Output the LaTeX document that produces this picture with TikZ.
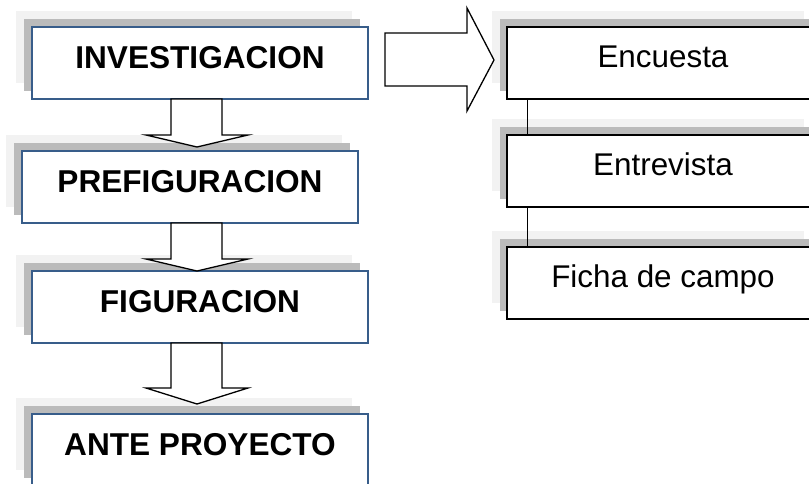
\documentclass[tikz,border=0pt]{standalone}
\usepackage{fontspec}
\setmainfont{Liberation Sans}
\usetikzlibrary{shadows,calc}
\definecolor{bordblue}{HTML}{385D8A}
\definecolor{shdark}{HTML}{BBBBBB}
\definecolor{shlight}{HTML}{F2F2F2}
\tikzset{
  shadowed/.style={
    general shadow={fill=shlight, shadow xshift=-16pt, shadow yshift=16pt},
    general shadow={fill=shdark, shadow xshift=-8pt, shadow yshift=8pt}},
  stagebox/.style={shadowed, draw=bordblue, line width=1.3pt, fill=white,
    rectangle, inner sep=0pt, minimum width=336pt, text height=41pt, text depth=31pt,
    font=\fontsize{31.6}{36}\selectfont\bfseries},
  toolbox/.style={draw=black, line width=1.3pt, fill=white,
    general shadow={fill=shlight, shadow xshift=-15pt, shadow yshift=16pt},
    general shadow={fill=shdark, shadow xshift=-7.5pt, shadow yshift=8pt},
    rectangle, inner sep=0pt, minimum width=312pt, text height=40pt, text depth=32pt,
    font=\fontsize{31.4}{36}\selectfont},
  blockarrow/.style={draw=black, line width=1.3pt, fill=white, line join=miter},
  link/.style={draw=black, line width=1pt}
}
\begin{document}
\begin{tikzpicture}[x=1pt,y=-1pt]
\clip (0,0) rectangle (809,483);
\fill[white] (0,0) rectangle (809,483);
% left column
\node[stagebox] (inv) at (200,63) {INVESTIGACION};
\node[stagebox] (pref) at (190,187) {PREFIGURACION};
\node[stagebox] (fig) at (200,307) {FIGURACION};
\node[stagebox] (ante) at (200,450) {ANTE PROYECTO};
% right column
\node[toolbox] (enc) at (663,63) {Encuesta};
\node[toolbox] (ent) at (663,171) {Entrevista};
\node[toolbox] (fic) at (663,283) {Ficha de campo};
% links right column
\draw[link] ([xshift=21pt]enc.south west) -- ([xshift=21pt]ent.north west);
\draw[link] ([xshift=21pt]ent.south west) -- ([xshift=21pt]fic.north west);
% down block arrows
\draw[blockarrow] (171,99) -- (171,135) -- (146,135) -- (197,147) -- (248,135) -- (222,135) -- (222,99) -- cycle;
\draw[blockarrow] (171,223) -- (171,259) -- (146,259) -- (197,271) -- (248,259) -- (222,259) -- (222,223) -- cycle;
\draw[blockarrow] (171,343) -- (171,388) -- (146,388) -- (197,404) -- (248,388) -- (222,388) -- (222,343) -- cycle;
% right block arrow
\draw[blockarrow] (385,33) -- (467,33) -- (467,8) -- (494,60) -- (467,111) -- (467,86) -- (385,86) -- cycle;
\end{tikzpicture}
\end{document}
